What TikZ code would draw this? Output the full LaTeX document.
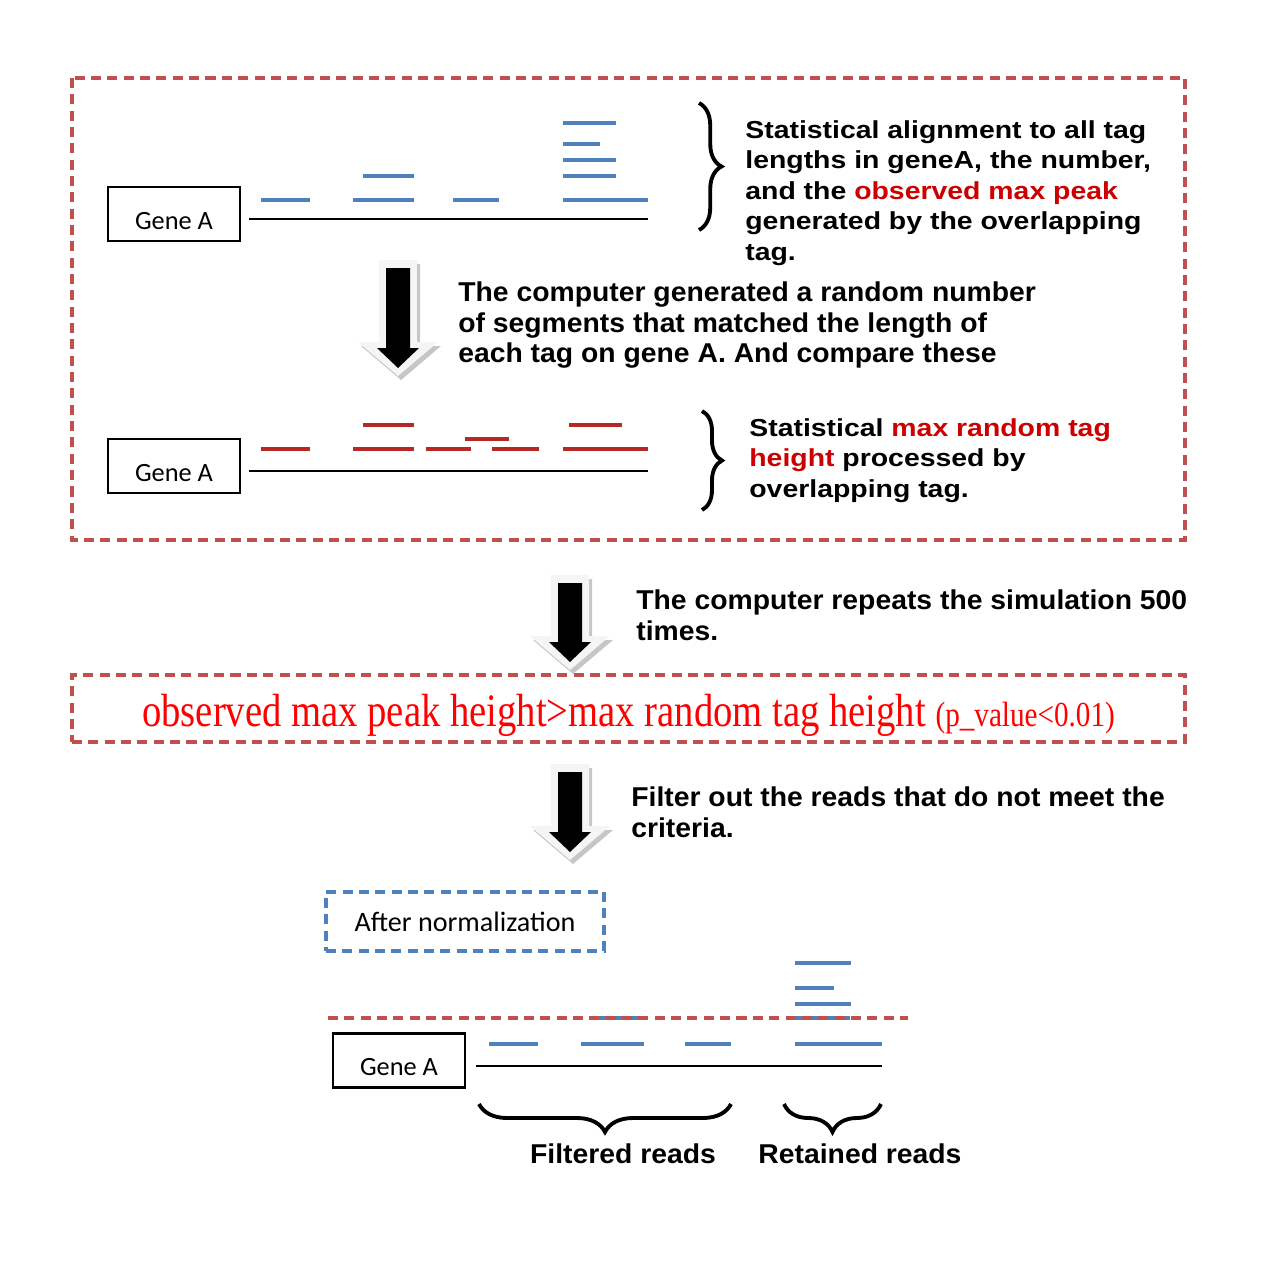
\documentclass[tikz,border=0pt]{standalone}
\usepackage{fontspec}
\setmainfont{Liberation Sans}
\newfontfamily\genefont{Carlito}
\newfontfamily\widefont[FakeStretch=1.155]{Liberation Sans}
\newfontfamily\notefont[FakeStretch=1.04]{Liberation Sans}
\newfontfamily\condserif[FakeStretch=0.83]{Liberation Serif}
\usetikzlibrary{decorations.pathreplacing}
\definecolor{boxred}{RGB}{192,80,77}
\definecolor{readblue}{RGB}{79,129,189}
\definecolor{readred}{RGB}{180,40,40}
\definecolor{textred}{RGB}{204,0,0}
\tikzset{
	genebox/.style={draw,line width=1.3pt,minimum width=2.64cm,minimum height=1.08cm,inner sep=0pt,
		text height=0.6cm,text depth=0pt,font=\genefont\fontsize{15}{18}\selectfont},
	geneline/.style={line width=1.5pt},
	bluetag/.style={readblue,line width=1.8pt},
	redtag/.style={readred,line width=1.8pt},
	redbox/.style={boxred,line width=1.9pt,dash pattern=on 5.7pt off 3.6pt},
	bluebox/.style={readblue,line width=1.9pt,dash pattern=on 5.7pt off 3.6pt},
	note/.style={align=left,inner sep=0pt,anchor=north west,font=\widefont\bfseries\fontsize{14}{17.4}\selectfont},
	bignote/.style={note,font=\notefont\bfseries\fontsize{15.5}{17.6}\selectfont},
	curly/.style={decorate,decoration={brace,amplitude=#1},line width=2.2pt},
	pics/bigdown/.style={code={
		\fill[gray!45] (-16,-4) -- (22,-4) -- (22,#1-2) -- (43,#1-2) -- (3,#1+32) -- (-37,#1-2) -- (-16,#1-2) -- cycle;
		\fill[gray!8] (-19,-8) -- (19,-8) -- (19,#1-6) -- (40,#1-6) -- (0,#1+28) -- (-40,#1-6) -- (-19,#1-6) -- cycle;
		\fill[black] (-12,0) -- (12,0) -- (12,#1) -- (21,#1) -- (0,#1+20) -- (-21,#1) -- (-12,#1) -- cycle;
	}}
}
\begin{document}
\begin{tikzpicture}[x=0.02cm,y=-0.02cm]
	\useasboundingbox (0,0) rectangle (1269,1275);
	% observed tags
	\draw[redbox] (72,78) rectangle (1185,540);
	\node[genebox] (geneA1) at (174,214) {Gene A};
	\coordinate (end1) at (648,219);
	\draw[geneline] (geneA1.east |- end1) ++(8,0) -- (end1);
	\foreach \a/\b/\y in {261/310/200,353/414/200,453/499/200,563/648/200,363/414/176,
		563/616/176,563/616/160,563/600/144,563/616/123}
		\draw[bluetag] (\a,\y) -- (\b,\y);
	\draw[curly=0.45cm] (699,103) -- (699,230);
	\node[note] (observed) at (745,120) {Statistical alignment to all tag\\
		lengths in geneA, the number,\\
		and the \textcolor{textred}{observed max peak}\\
		generated by the overlapping\\
		tag.};
	\pic at (398,268) {bigdown=80};
	\node[bignote] (simulate) at (458,281) {The computer generated a random number\\
		of segments that matched the length of\\
		each tag on gene A. And compare these};
	% random tags
	\node[genebox] (geneA2) at (174,466) {Gene A};
	\coordinate (end2) at (648,471);
	\draw[geneline] (geneA2.east |- end2) ++(8,0) -- (end2);
	\foreach \a/\b/\y in {261/310/449,353/414/449,426/471/449,492/539/449,563/648/449,
		465/509/439,363/414/425,569/622/425}
		\draw[redtag] (\a,\y) -- (\b,\y);
	\draw[curly=0.4cm] (702,411) -- (702,510);
	\node[note] (random) at (749,418) {Statistical \textcolor{textred}{max random tag}\\
		\textcolor{textred}{height} processed by\\
		overlapping tag.};
	% repeat
	\pic at (570,583) {bigdown=59};
	\node[bignote] (repeat) at (636,589) {The computer repeats the simulation 500\\
		times.};
	\node[redbox,draw,minimum width=22.26cm,minimum height=1.34cm,inner sep=0pt] (criterion) at (628.5,708.5)
		{\raisebox{-4pt}[\height][\depth]{\textcolor{red}{\condserif\fontsize{26.5}{30}\selectfont observed max peak height>max random tag height
		\fontsize{20}{22}\selectfont (p\_value<0.01)}}};
	\pic at (570,772) {bigdown=60};
	\node[bignote] (filter) at (631,786) {Filter out the reads that do not meet the\\
		criteria.};
	% after normalization
	\node[bluebox,draw,text=black,minimum width=5.56cm,minimum height=1.18cm,inner sep=0pt,
		font=\genefont\fontsize{16}{19}\selectfont] (norm) at (465,921.5) {After normalization};
	\node[genebox] (geneA3) at (399,1060.5) {Gene A};
	\coordinate (end3) at (882,1066);
	\draw[geneline] (geneA3.east |- end3) ++(10,0) -- (end3);
	\foreach \a/\b/\y in {489/538/1044,581/644/1044,685/731/1044,795/882/1044,593/644/1018,
		795/850/1018,795/851/1004,795/834/988,795/851/963}
		\draw[bluetag] (\a,\y) -- (\b,\y);
	\draw[redbox] (328,1018) -- (908,1018);
	\draw[curly=0.56cm] (731,1104) -- (479,1104);
	\draw[curly=0.56cm] (881,1104) -- (784,1104);
	\node[bignote,anchor=center] (filtered) at (623,1154) {Filtered reads};
	\node[bignote,anchor=center] (retained) at (860,1154) {Retained reads};
\end{tikzpicture}
\end{document}
